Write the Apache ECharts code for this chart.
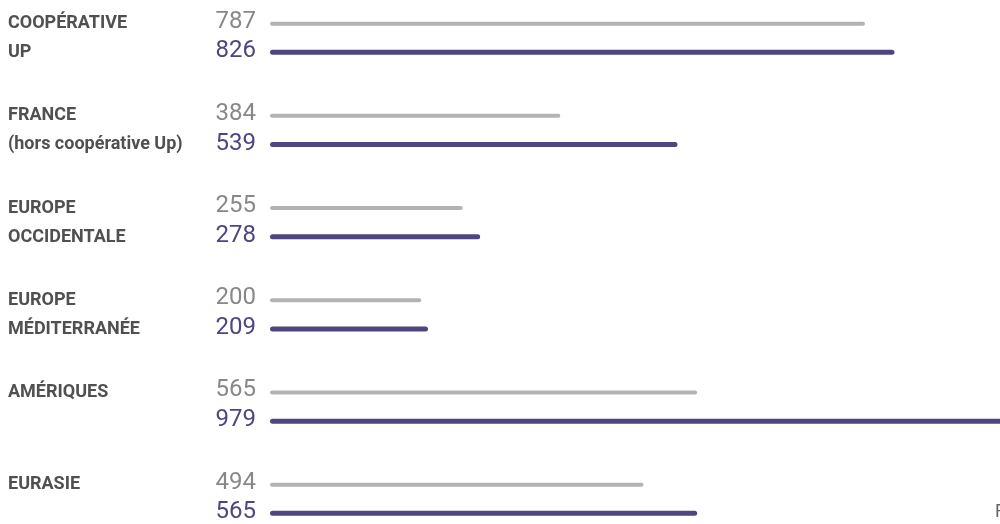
<!DOCTYPE html>
<html>
<head>
<meta charset="utf-8">
<script src="https://cdn.jsdelivr.net/npm/echarts@6/dist/echarts.min.js"></script>
<style>
html,body{margin:0;padding:0;background:#fff;}
#chart{width:1000px;height:524px;}
</style>
</head>
<body>
<div id="chart"></div>
<script>
var categories = ["COOPÉRATIVE\nUP", "FRANCE\n(hors coopérative Up)", "EUROPE\nOCCIDENTALE", "EUROPE\nMÉDITERRANÉE", "AMÉRIQUES", "EURASIE"];
var previousValues = [787, 384, 255, 200, 565, 494];
var currentValues = [826, 539, 278, 209, 979, 565];
var cornerText = "F";

var chart = echarts.init(document.getElementById('chart'), null, {renderer: 'canvas'});
var option = {
  animation: false,
  backgroundColor: '#ffffff',
  grid: {left: 270, top: -7.85, width: 756, height: 553.2, containLabel: false, outerBoundsMode: 'none'},
  xAxis: {type: 'value', min: 0, max: 1000, show: false},
  yAxis: {
    type: 'category', data: categories, inverse: true,
    axisLine: {show: false}, axisTick: {show: false}, splitLine: {show: false},
    axisLabel: {
      margin: 262, align: 'left', fontFamily: 'Roboto', fontWeight: 'bold', fontSize: 18,
      lineHeight: 29, color: '#505050',
      formatter: function (v) { return v.indexOf('\n') >= 0 ? v : v + '\n '; }
    }
  },
  series: [
    {
      type: 'bar', data: previousValues, barWidth: 4, barGap: '606%',
      itemStyle: {color: '#b3b3b3', borderRadius: 2},
      label: {show: true, position: 'left', distance: 14, fontFamily: 'Roboto', fontSize: 24, color: '#888888', offset: [0, -2]}
    },
    {
      type: 'bar', data: currentValues, barWidth: 5,
      itemStyle: {color: '#4e467f', borderRadius: 2.5},
      label: {show: true, position: 'left', distance: 14, fontFamily: 'Roboto', fontSize: 24, color: '#4e4581', offset: [0, -1]}
    }
  ],
  graphic: [{
    type: 'text', left: 995, top: 503,
    style: {text: cornerText, fontFamily: 'Roboto', fontSize: 18, fill: '#666666'}
  }]
};
chart.setOption(option);
</script>
</body>
</html>
